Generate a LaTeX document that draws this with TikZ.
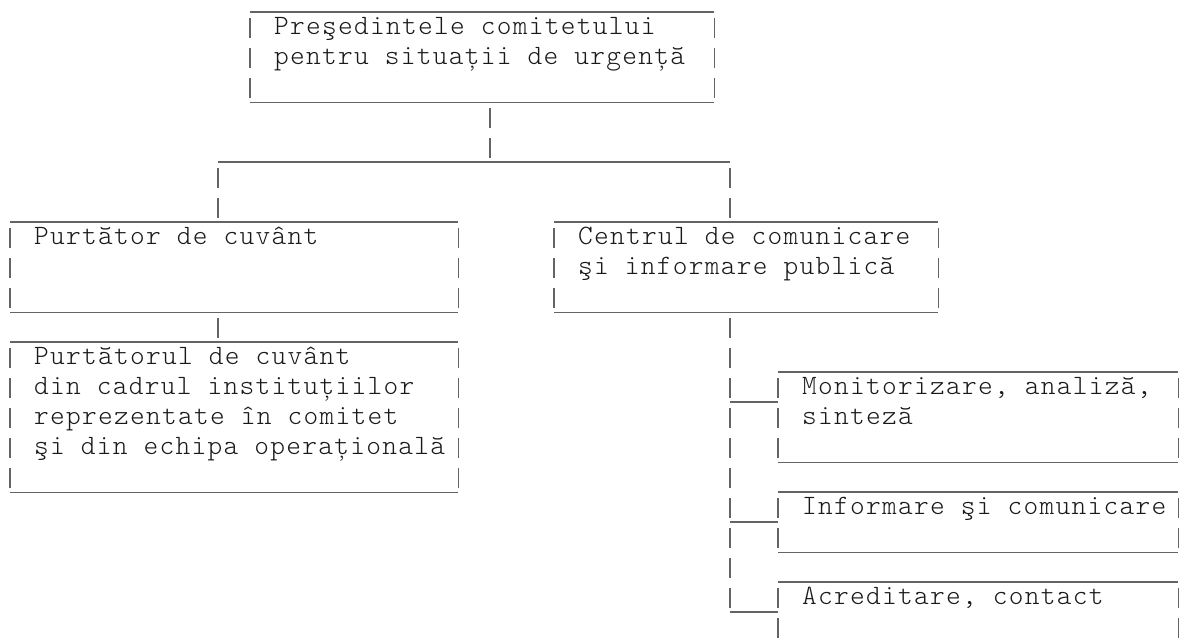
\documentclass[tikz,border=0pt]{standalone}
\usepackage{fontspec}
\newfontfamily\asciimono[LetterSpace=4.64]{Latin Modern Mono Light}
\definecolor{rulegray}{RGB}{100,100,100}
\definecolor{textgray}{RGB}{25,25,25}
\newcommand\drawasciibox[1]{%
  \draw[hrule] (#1.north west) -- (#1.north east) (#1.south west) -- (#1.south east);
  \draw[vrule] (#1.north west) -- (#1.south west);
  \draw[vrule] (#1.north east) -- (#1.south east);}
\tikzset{
  hrule/.style={draw=rulegray, line width=1.2pt},
  vrule/.style={draw=rulegray, line width=1.2pt, dash pattern=on 20pt off 10pt, dash phase=24pt},
  boxn/.style={rectangle, draw=none, inner sep=0pt, anchor=north west},
  txt/.style={inner sep=0pt, anchor=north west, align=left, text=textgray,
              font=\asciimono\fontsize{28}{30}\selectfont},
}
\begin{document}
\begin{tikzpicture}[x=1pt, y=-1pt]
\path[fill=white, use as bounding box] (0,0) rectangle (1182,642);

% boxes
\node[boxn, minimum width=464pt, minimum height=90pt]  (top) at (250,12)  {};
\node[boxn, minimum width=448pt, minimum height=90pt]  (pc)  at (10,222)  {};
\node[boxn, minimum width=448pt, minimum height=150pt] (pci) at (10,342)  {};
\node[boxn, minimum width=384pt, minimum height=90pt]  (cc)  at (554,222) {};
\node[boxn, minimum width=400pt, minimum height=90pt]  (mon) at (778,372) {};
\node[boxn, minimum width=400pt, minimum height=60pt]  (inf) at (778,492) {};
\node[boxn, minimum width=400pt, minimum height=60pt]  (acr) at (778,582) {};

\drawasciibox{top}
\drawasciibox{pc}
\drawasciibox{pci}
\drawasciibox{cc}
\drawasciibox{mon}
\drawasciibox{inf}
\draw[hrule] (acr.north west) -- (acr.north east);
\draw[vrule] (acr.north west) -- (acr.south west);
\draw[vrule] (acr.north east) -- (acr.south east);

% texts
\node[txt] (ttop) at (274,13.5)  {\strut Preşedintele comitetului\\\strut pentru situații de urgență};
\node[txt] (tpc)  at (34,223.5)  {\strut Purtător de cuvânt};
\node[txt] (tpci) at (34,343.5)  {\strut Purtătorul de cuvânt\\\strut din cadrul instituțiilor\\\strut reprezentate în comitet\\\strut şi din echipa operațională};
\node[txt] (tcc)  at (578,223.5) {\strut Centrul de comunicare\\\strut şi informare publică};
\node[txt] (tmon) at (802,373.5) {\strut Monitorizare, analiză,\\\strut sinteză};
\node[txt] (tinf) at (802,493.5) {\strut Informare şi comunicare};
\node[txt] (tacr) at (802,583.5) {\strut Acreditare, contact};

% connectors
\coordinate (j1) at (490,162);
\coordinate (jl) at (218,162);
\coordinate (jr) at (730,162);
\coordinate (b1) at (730,402);
\coordinate (b2) at (730,522);
\coordinate (b3) at (730,612);

\draw[vrule] (top.south -| j1) -- (j1);
\draw[hrule] (jl) -- (jr);
\draw[vrule] (jl) -- (jl |- pc.north);
\draw[vrule] (jr) -- (jr |- cc.north);
\draw[vrule] (pc.south -| jl) -- (pci.north -| jl);
\draw[vrule] (cc.south -| b3) -- (b3);
\draw[hrule] (b1) -- (b1 -| mon.west);
\draw[hrule] (b2) -- (b2 -| inf.west);
\draw[hrule] (b3) -- (b3 -| acr.west);
\end{tikzpicture}
\end{document}
